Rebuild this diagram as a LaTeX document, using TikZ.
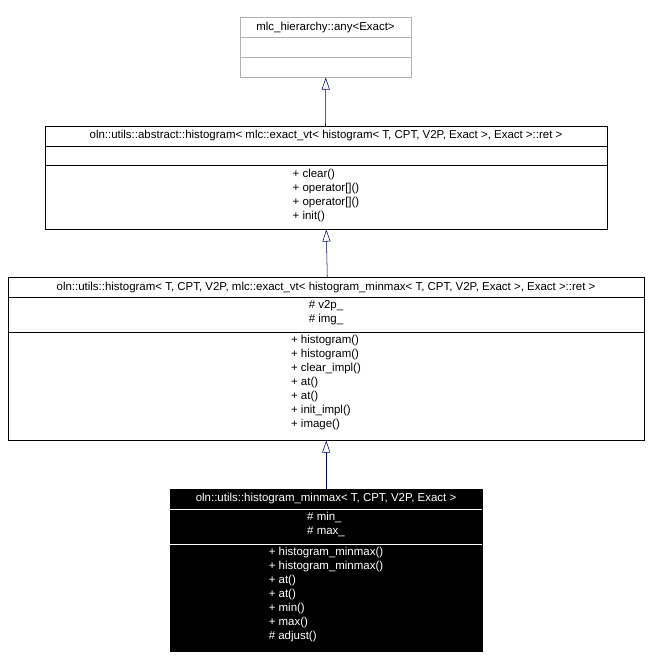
\documentclass[tikz,border=0pt]{standalone}
\usepackage{fontspec}
\setmainfont{Liberation Sans}
\usetikzlibrary{positioning,arrows.meta}

\begin{document}
\begin{tikzpicture}[x=0.75pt,y=-0.75pt,
    every node/.style={font=\fontsize{8.6}{10.5}\selectfont, inner sep=0pt},
    cls/.style={draw, rectangle, anchor=north west},
    members/.style={align=left, anchor=north},
    inherit/.style={draw=blue!40!black, -{Triangle[open, length=9pt, width=6pt]}}]
    \useasboundingbox (0,0) rectangle (649,668);

    % base class
    \node[cls, draw=black!30, minimum width=171*0.75pt, minimum height=60*0.75pt] (any) at (240,17) {};
    \draw[black!30] (240,37) -- (411,37) (240,57) -- (411,57);
    \node (anyT) at (325.5,28) {mlc\_hierarchy::any<Exact>};

    % abstract histogram
    \node[cls, minimum width=562*0.75pt, minimum height=103*0.75pt] (abs) at (45,126) {};
    \draw (45,146) -- (607,146) (45,165) -- (607,165);
    \node (absT) at (326,136) {oln::utils::abstract::histogram< mlc::exact\_vt< histogram< T, CPT, V2P, Exact >, Exact >::ret >};
    \node[members] (absM) at (326,169) {+ clear()\\+ operator[]()\\+ operator[]()\\+ init()};

    % histogram
    \node[cls, minimum width=636*0.75pt, minimum height=163*0.75pt] (hist) at (8,277) {};
    \draw (8,297) -- (644,297) (8,332) -- (644,332);
    \node (histT) at (326,288) {oln::utils::histogram< T, CPT, V2P, mlc::exact\_vt< histogram\_minmax< T, CPT, V2P, Exact >, Exact >::ret >};
    \node[members] (histA) at (326,300) {\# v2p\_\\\# img\_};
    \node[members] (histM) at (326,335) {+ histogram()\\+ histogram()\\+ clear\_impl()\\+ at()\\+ at()\\+ init\_impl()\\+ image()};

    % histogram_minmax
    \node[cls, fill=black, minimum width=312*0.75pt, minimum height=162*0.75pt] (minmax) at (170,489) {};
    \draw[white] (170,509) -- (482,509) (170,544) -- (482,544);
    \node[text=white] (mmT) at (326,499) {oln::utils::histogram\_minmax< T, CPT, V2P, Exact >};
    \node[members, text=white] (mmA) at (326,512) {\# min\_\\\# max\_};
    \node[members, text=white] (mmM) at (326,547) {+ histogram\_minmax()\\+ histogram\_minmax()\\+ at()\\+ at()\\+ min()\\+ max()\\\# adjust()};

    \draw[inherit] (abs.north -| absT) ++(-0.5,0) -- (any.south);
    \draw[inherit] (hist.north) ++(1,0) -- (abs.south);
    \draw[inherit] (minmax.north) -- (hist.south);
\end{tikzpicture}
\end{document}
